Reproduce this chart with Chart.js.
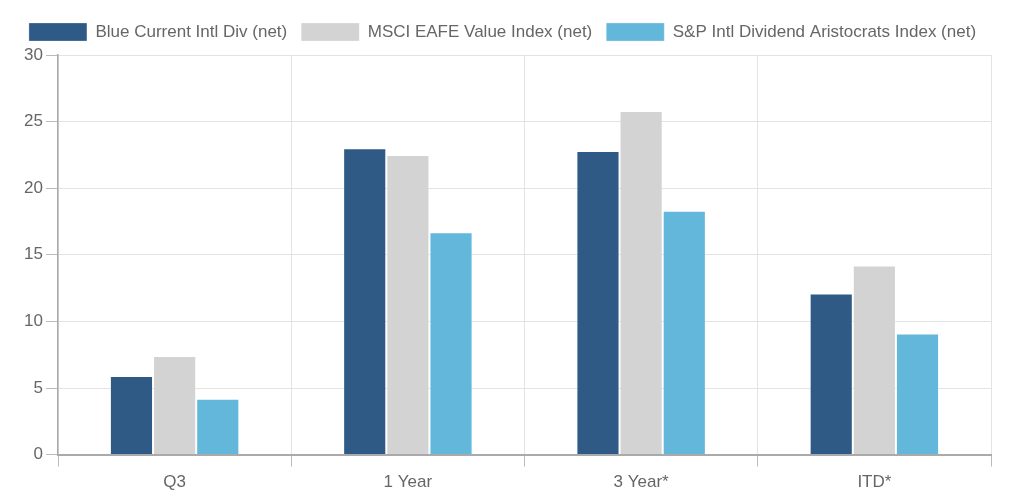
<!DOCTYPE html>
<html>
<head>
<meta charset="utf-8">
<script src="https://cdn.jsdelivr.net/npm/chart.js@4/dist/chart.umd.min.js"></script>
<style>
  html, body { margin: 0; padding: 0; background: #fff; }
  #wrap { width: 1024px; height: 499px; }
</style>
</head>
<body>
<div id="wrap"><canvas id="bars"></canvas></div>
<script>
const categories = ['Q3', '1 Year', '3 Year*', 'ITD*'];
const blueCurrent = [5.9, 23.0, 22.8, 12.1];
const msciEafeValue = [7.4, 22.5, 25.8, 14.2];
const spAristocrats = [4.2, 16.7, 18.3, 9.1];
const yTicks = [0, 5, 10, 15, 20, 25, 30];

Chart.defaults.font.family = "'Liberation Sans', Arial, Helvetica, sans-serif";
Chart.defaults.font.size = 17;
Chart.defaults.color = '#666';

// a little extra room under the legend
const legendGap = {
    id: 'legendGap',
    beforeInit(chart) {
        const origFit = chart.legend.fit;
        chart.legend.fit = function () {
            origFit.bind(chart.legend)();
            this.height += 4;
        };
    }
};

const barsEl = document.getElementById('bars');

const bars = new Chart(barsEl, {
    type: 'bar',
    data: {
        labels: categories,
        datasets: [{
            label: 'Blue Current Intl Div (net)',
            data: blueCurrent,
            backgroundColor: '#2f5a86',
            borderColor: 'rgba(255,255,255,0.25)',
            borderWidth: 1
        }, {
            label: 'MSCI EAFE Value Index (net)',
            data: msciEafeValue,
            backgroundColor: '#d3d3d3',
            borderColor: 'rgba(255,255,255,0.25)',
            borderWidth: 1
        }, {
            label: 'S&P Intl Dividend Aristocrats Index (net)',
            data: spAristocrats,
            backgroundColor: '#63b7db',
            borderColor: 'rgba(255,255,255,0.25)',
            borderWidth: 1
        }]
    },
    plugins: [legendGap],
    options: {
        responsive: true,
        maintainAspectRatio: false,
        animation: false,
        layout: {
            padding: { left: 14, right: 33, top: 9, bottom: 0 }
        },
        datasets: {
            bar: {
                categoryPercentage: 0.555,
                barPercentage: 1.0
            }
        },
        plugins: {
            legend: {
                display: true,
                labels: {
                    boxWidth: 58,
                    boxHeight: 18,
                    padding: 14,
                    color: '#666'
                }
            },
            tooltip: { enabled: false }
        },
        scales: {
            x: {
                grid: {
                    offset: true,
                    color: '#e3e3e3',
                    tickLength: 12,
                    tickColor: '#bbb'
                },
                border: { color: '#aaa', width: 2 },
                ticks: { padding: 6 }
            },
            y: {
                min: 0,
                max: 30,
                afterBuildTicks: axis => {
                    axis.ticks = yTicks.map(v => ({ value: v }));
                },
                afterFit: axis => {
                    axis.width = 44;
                },
                grid: {
                    color: '#e3e3e3',
                    tickLength: 12,
                    tickColor: '#bbb'
                },
                border: { color: '#aaa', width: 1.5 },
                ticks: { padding: 3 }
            }
        }
    }
});
</script>
</body>
</html>
